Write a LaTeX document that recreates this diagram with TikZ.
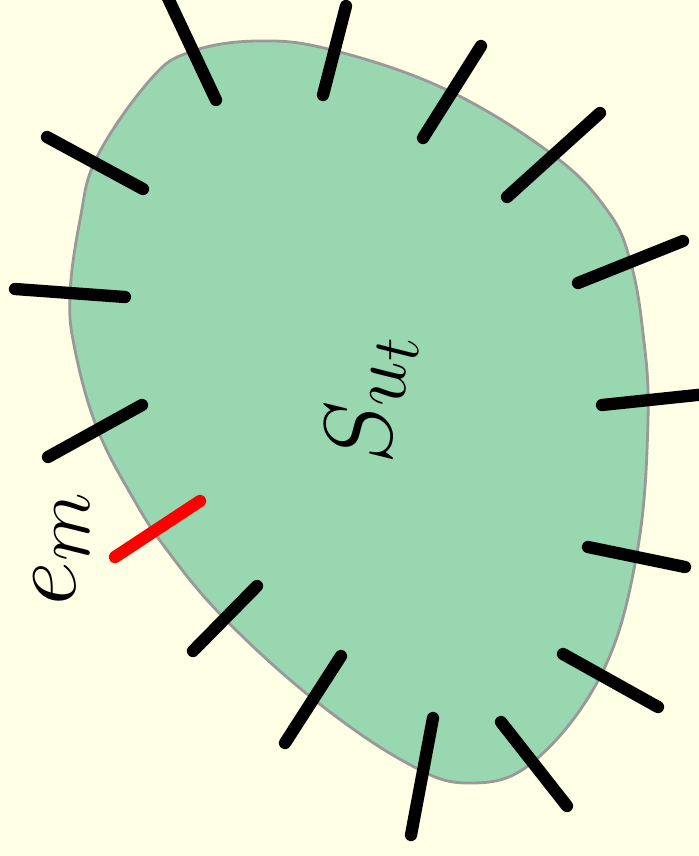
\documentclass[tikz,border=0pt]{standalone}
\usepackage{xcolor}
\usepackage{tikz}
\usetikzlibrary{arrows.meta,positioning}
\definecolor{paleyellow}{HTML}{FFFFE6}
\definecolor{blobgreen}{HTML}{99D7B0}
\definecolor{rimgray}{HTML}{999999}

\begin{document}
\begin{tikzpicture}[
    x=0.02cm, y=-0.02cm,
    blob/.style={fill=blobgreen, draw=rimgray, line width=1.6pt},
    spoke/.style={line width=7pt, line cap=round, draw=black},
    redspoke/.style={spoke, draw=red},
    biglabel/.style={rotate=90, anchor=base west, inner sep=0pt, font=\Huge, scale=2.2}
]
\fill[paleyellow] (0,0) rectangle (699,856);
\useasboundingbox (0,0) rectangle (699,856);
\clip (0,0) rectangle (699,856);
\draw[blob] plot[smooth cycle, tension=0.65] coordinates {
    (190,52) (257,41) (332,50) (447,90) (553,155) (607,210) (630,260)
    (643,333) (648,420) (637,553) (602,673) (533,762) (468,783) (405,762)
    (312,698) (223,617) (167,550) (133,498) (97,428) (75,350) (70,295)
    (80,220) (97,157) (150,80)};
\draw[spoke] (216,100) -- (167,-4);
\draw[spoke] (323,95) -- (346,6);
\draw[spoke] (423,138) -- (481,46);
\draw[spoke] (507,197) -- (600,113);
\draw[spoke] (578,283) -- (683,241);
\draw[spoke] (602,405) -- (716,393);
\draw[spoke] (588,547) -- (685,567);
\draw[spoke] (563,654) -- (658,707);
\draw[spoke] (501,722) -- (567,806);
\draw[spoke] (433,718) -- (411,835);
\draw[spoke] (341,656) -- (285,743);
\draw[spoke] (257,586) -- (193,651);
\draw[redspoke] (200,501) -- (115,557);
\draw[spoke] (142,405) -- (48,457);
\draw[spoke] (125,297) -- (15,289);
\draw[spoke] (143,189) -- (47,137);
\node[biglabel] (sut) at (391,465) {$S_{u_t}$};
\node[biglabel] (em) at (75,606) {$e_m$};
\end{tikzpicture}
\end{document}
